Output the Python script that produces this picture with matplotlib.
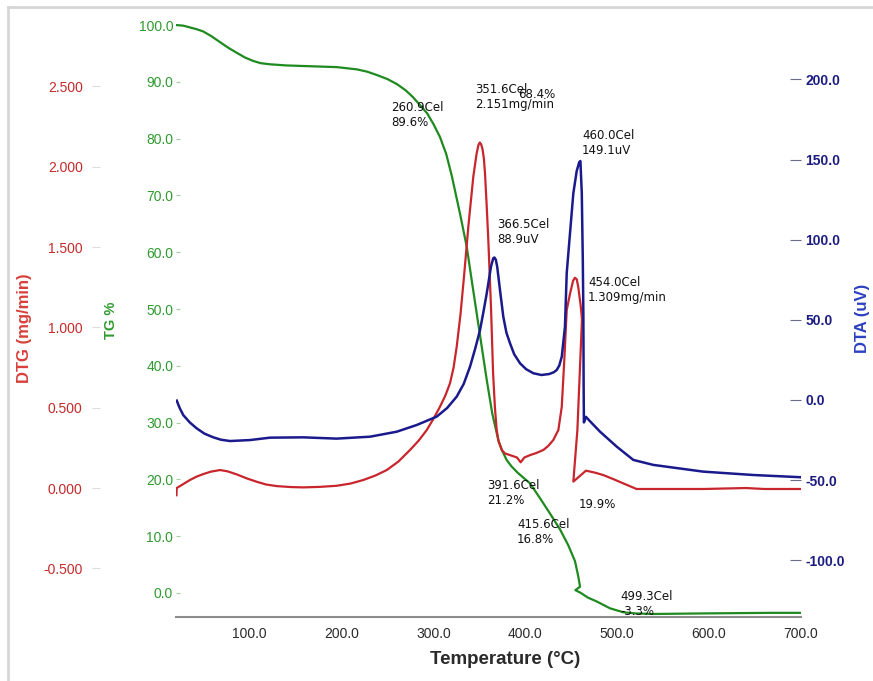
import matplotlib.pyplot as plt
from matplotlib.lines import Line2D

# ---- data ----
tg_T = [21, 28, 35, 42, 49.4, 58, 67.9, 77, 86.4, 95, 103.8, 112, 122.3, 140, 158.2,
        195.2, 217, 228, 238.7, 250, 260.5, 270, 277.9, 285, 293.1, 300, 307.2, 314,
        320, 329, 336.3, 341.7, 347.2, 352.6, 358.1, 364.1, 370.7, 375, 379.8, 385,
        391.6, 398, 405.2, 415.6, 426.9, 437.8, 446.8, 454.1, 457.7, 459.6, 454.5,
        460.5, 468, 477.8, 492.2, 506.7, 520, 539, 593.4, 666.3, 700]
tg_val = [100, 99.9, 99.6, 99.3, 98.9, 98.1, 97.0, 96.0, 95.1, 94.3, 93.7, 93.3, 93.1, 92.9, 92.8,
          92.6, 92.2, 91.8, 91.2, 90.5, 89.6, 88.5, 87.3, 86.0, 84.5, 82.6, 80.3, 77.3,
          73.5, 66.8, 61.0, 55.1, 49.2, 43.4, 37.5, 31.6, 26.9, 25.0, 23.4, 22.3,
          21.2, 20.3, 19.3, 16.8, 14.0, 11.2, 8.4, 5.6, 2.9, 1.1, 0.5,
          0.0, -0.8, -1.5, -2.7, -3.4, -3.6, -3.7, -3.6, -3.5, -3.5]

dtg_T = [20.5, 20.8, 28, 35.2, 42, 49.7, 58, 67.9, 76, 86, 97, 107.8, 118, 129.6, 145,
         158.5, 176, 194.8, 210, 223.8, 237, 249.3, 262, 274.6, 284, 292.8, 300, 307.2,
         313, 318.1, 322, 325.4, 329.5, 333.4, 338.1, 343.5, 347, 349, 350.5, 352,
         353.5, 355, 356.2, 358, 359.8, 362.7, 365, 367, 368.9, 371, 374.4, 378, 383.4,
         391, 395, 399, 405.2, 412, 419.7, 425, 430.5, 436, 439.7, 442.5, 445.1, 448.7,
         452, 454.0, 456, 457.7, 460.4, 461.7, 456.7, 452.3, 466, 475, 484.8, 496,
         506.6, 521.1, 593.7, 640, 660, 700]
dtg_val = [-0.045, 0.0, 0.025, 0.05, 0.07, 0.087, 0.102, 0.112, 0.104, 0.085, 0.06, 0.039, 0.022, 0.012, 0.006,
           0.004, 0.007, 0.014, 0.028, 0.05, 0.078, 0.112, 0.165, 0.237, 0.295, 0.361, 0.43, 0.506,
           0.575, 0.652, 0.75, 0.88, 1.08, 1.32, 1.63, 1.94, 2.08, 2.135, 2.151, 2.14,
           2.11, 2.05, 1.96, 1.76, 1.544, 1.129, 0.714, 0.5, 0.361, 0.29, 0.237, 0.215, 0.205,
           0.19, 0.16, 0.19, 0.205, 0.218, 0.237, 0.262, 0.299, 0.361, 0.506, 0.8, 1.108, 1.21,
           1.29, 1.309, 1.3, 1.25, 1.13, 1.05, 0.36, 0.04, 0.108, 0.097, 0.081, 0.055,
           0.029, -0.006, -0.006, 0.0, -0.006, -0.006]

dta_T = [20.8, 24, 27.9, 35, 42.5, 51, 60.6, 69, 78.8, 100.5, 122.3, 158.5, 194.8, 231.1,
         260.1, 281.9, 303.6, 315, 325.4, 333, 339.9, 345.5, 350.8, 354.5, 358.1, 362.7,
         365.2, 366.5, 368, 369.5, 372.5, 376.1, 379.5, 383.4, 388, 394.3, 401, 408.8,
         417.5, 426, 431, 434.2, 437, 439.7, 443.2, 445.1, 448.7, 452.3, 456, 458.8, 460.0,
         461.5, 462.6, 463.2, 463.5, 463.8, 466.0, 470, 481.4, 499.5, 517.6, 539.3, 593.7,
         648.1, 700]
dta_val = [-0.4, -5, -9.4, -14, -17.7, -21, -23.3, -24.8, -25.6, -25.0, -23.5, -23.3, -24.1, -22.9,
           -19.8, -15.6, -10.4, -5, 2.1, 10, 20.8, 32, 43.7, 55, 66.6, 83.2,
           88.5, 88.9, 87.5, 83, 68.6, 52.0, 42, 35.4, 28.5, 22.9, 19.2, 16.7,
           15.6, 16.2, 17.3, 18.7, 21.5, 27.0, 45.7, 79.2, 104.2, 129.0, 143, 148.5, 149.1,
           129.0, 87.3, 54.3, 10, -14, -10.5, -13, -19.8, -29.1, -37.4, -40.5, -44.7,
           -46.8, -48.2]

x_ticks = [100, 200, 300, 400, 500, 600, 700]
tg_ticks = [0, 10, 20, 30, 40, 50, 60, 70, 80, 90, 100]
dtg_ticks = [-0.5, 0.0, 0.5, 1.0, 1.5, 2.0, 2.5]
dta_ticks = [-100, -50, 0, 50, 100, 150, 200]

ann_texts = ['260.9Cel\n89.6%', '351.6Cel\n2.151mg/min', '68.4%', '460.0Cel\n149.1uV',
             '366.5Cel\n88.9uV', '454.0Cel\n1.309mg/min', '391.6Cel\n21.2%', '19.9%',
             '415.6Cel\n16.8%', '499.3Cel\n-3.3%']
# pixel positions (left edge, vertical centre) in the 873x681 figure
ann_pos = [(391, 115), (475, 97), (518, 94), (582, 143), (497, 232), (588, 290),
           (487, 493), (579, 505), (517, 532), (620, 604)]

W, H = 873, 681
GREEN, RED, BLUE = '#1f8a1f', '#c8262c', '#1a1a8c'

fig = plt.figure(figsize=(W / 100, H / 100), dpi=100)
ax = fig.add_axes([176 / W, 1 - 617 / H, 625 / W, 597 / H])
ax_dtg = ax.twinx()
ax_dta = ax.twinx()

ax.plot(tg_T, tg_val, color=GREEN, lw=1.6)
ax_dtg.plot(dtg_T, dtg_val, color=RED, lw=1.6)
ax_dta.plot(dta_T, dta_val, color=BLUE, lw=1.8)

ax.set_xlim(20, 700)
ax.set_ylim(-4.23, 100.9)
ax_dtg.set_ylim(-0.803, 2.914)
ax_dta.set_ylim(-135.4, 237.1)

for a in (ax, ax_dtg, ax_dta):
    for s in a.spines.values():
        s.set_visible(False)
ax.spines['bottom'].set_visible(True)
ax.spines['bottom'].set_color('#8c8c8c')
ax.spines['bottom'].set_linewidth(1.5)

tick_font = dict(family='Liberation Sans', size=10)

ax.set_xticks(x_ticks)
ax.set_xticklabels([f'{v:.1f}' for v in x_ticks], color='#2a2a2a', **tick_font)
ax.tick_params(axis='x', length=0, pad=7)

ax.set_yticks(tg_ticks)
ax.set_yticklabels([f'{v:.1f}' for v in tg_ticks], color='#2f9a2f', **tick_font)
ax.tick_params(axis='y', direction='in', length=3, color='#9fd09f', pad=2)

ax_dtg.yaxis.set_ticks_position('left')
ax_dtg.spines['left'].set_position(('axes', -76 / 625))
ax_dtg.set_yticks(dtg_ticks)
ax_dtg.set_yticklabels([f'{v:.3f}' for v in dtg_ticks], color='#c42a2a', **tick_font)
ax_dtg.tick_params(axis='y', direction='out', length=6, color='#dddddd', pad=6.5)

ax_dta.set_yticks(dta_ticks)
ax_dta.set_yticklabels([f'{v:.1f}' for v in dta_ticks], color='#1c1c80',
                       family='Liberation Sans', size=10, weight='bold')
ax_dta.tick_params(axis='y', direction='in', length=8, color='#6a6a8a', pad=3)

# axis titles
fig.text(25 / W, 1 - 328 / H, 'DTG (mg/min)', rotation=90, ha='center', va='center',
         color='#d8403a', family='Liberation Sans', size=12, weight='bold')
fig.text(111 / W, 1 - 320 / H, 'TG %', rotation=90, ha='center', va='center',
         color='#2f9a2f', family='Liberation Sans', size=10.5, weight='bold')
fig.text(862 / W, 1 - 318 / H, 'DTA (uV)', rotation=90, ha='center', va='center',
         color='#2b40c0', family='Liberation Sans', size=12, weight='bold')
fig.text(505 / W, 1 - 660 / H, 'Temperature (°C)', ha='center', va='center',
         color='#2a2a2a', family='Liberation Sans', size=13.5, weight='bold')

for txt, (px, py) in zip(ann_texts, ann_pos):
    fig.text(px / W, 1 - py / H, txt, ha='left', va='center', color='#111111',
             family='DejaVu Sans', size=8.5, linespacing=1.2)

# light frame of the screenshot
fig.add_artist(Line2D([8 / W, 1], [1 - 7 / H] * 2, transform=fig.transFigure,
                      color='#d6d6d6', lw=2))
fig.add_artist(Line2D([8 / W] * 2, [0, 1 - 7 / H], transform=fig.transFigure,
                      color='#d6d6d6', lw=2))

fig.savefig('out.png', dpi=100)
